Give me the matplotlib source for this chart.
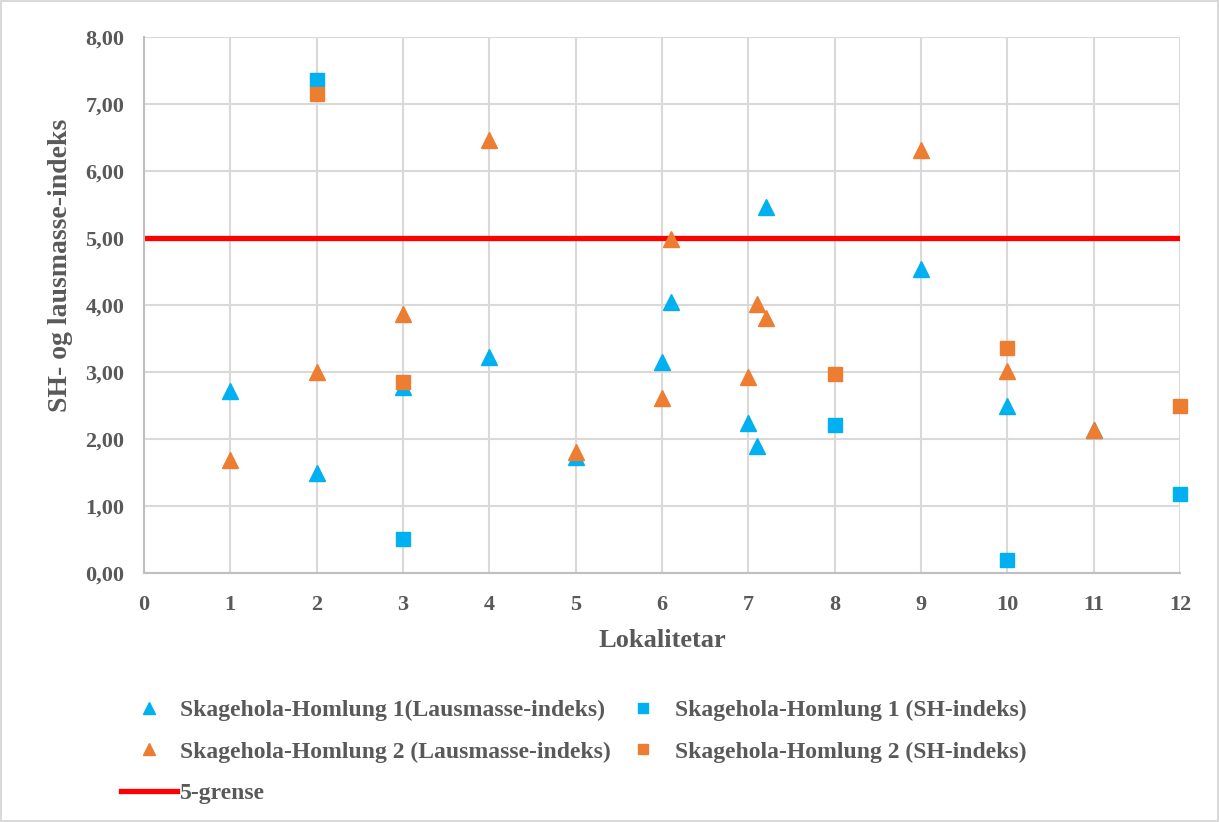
import matplotlib
matplotlib.use("Agg")
import matplotlib.pyplot as plt
from matplotlib.ticker import FuncFormatter

plt.rcParams['font.family'] = ['Liberation Serif', 'DejaVu Serif']
plt.rcParams['font.weight'] = 'bold'

# Skagehola-Homlung 1 - lausmasse-indeks (blue triangles)
x_s1_laus = [1, 2, 3, 4, 5, 6, 6.1, 7, 7.1, 7.2, 9, 10, 11]
y_s1_laus = [2.71, 1.49, 2.78, 3.22, 1.73, 3.15, 4.05, 2.24, 1.90, 5.46, 4.54, 2.49, 2.13]

# Skagehola-Homlung 1 - SH-indeks (blue squares)
x_s1_sh = [2, 3, 8, 10, 12]
y_s1_sh = [7.36, 0.51, 2.21, 0.20, 1.18]

# Skagehola-Homlung 2 - lausmasse-indeks (orange triangles)
x_s2_laus = [1, 2, 3, 4, 5, 6, 6.1, 7, 7.1, 7.2, 9, 10, 11]
y_s2_laus = [1.69, 3.00, 3.87, 6.46, 1.80, 2.61, 4.99, 2.92, 4.01, 3.81, 6.31, 3.01, 2.14]

# Skagehola-Homlung 2 - SH-indeks (orange squares)
x_s2_sh = [2, 3, 8, 10, 12]
y_s2_sh = [7.15, 2.85, 2.97, 3.36, 2.49]

grense = 5.0

labels = ["Skagehola-Homlung 1(Lausmasse-indeks)",
          "Skagehola-Homlung 1 (SH-indeks)",
          "Skagehola-Homlung 2 (Lausmasse-indeks)",
          "Skagehola-Homlung 2 (SH-indeks)",
          "5-grense"]

blue = '#00B0F0'
orange = '#ED7D31'
txt = '#595959'

fig = plt.figure(figsize=(12.19, 8.22), dpi=100, edgecolor='#d9d9d9', linewidth=1.5)
ax = fig.add_axes([0.118, 0.303, 0.850, 0.652])

h_line = ax.axhline(grense, color='#FF0000', lw=3.8, zorder=2)
h1, = ax.plot(x_s1_laus, y_s1_laus, ls='none', marker='^', ms=11, color=blue, zorder=3, clip_on=False)
h2, = ax.plot(x_s1_sh, y_s1_sh, ls='none', marker='s', ms=10.5, color=blue, zorder=3, clip_on=False)
h3, = ax.plot(x_s2_laus, y_s2_laus, ls='none', marker='^', ms=11, color=orange, zorder=4, clip_on=False)
h4, = ax.plot(x_s2_sh, y_s2_sh, ls='none', marker='s', ms=10.5, color=orange, zorder=4, clip_on=False)

ax.set_xlim(0, 12)
ax.set_ylim(0, 8)
ax.set_xticks(range(0, 13))
ax.set_yticks(range(0, 9))
ax.yaxis.set_major_formatter(FuncFormatter(lambda v, p: ('%.2f' % v).replace('.', ',')))
ax.grid(True, color='#D9D9D9', lw=1.5, zorder=0)
ax.set_axisbelow(True)
for s in ['top', 'right']:
    ax.spines[s].set_visible(False)
for s in ['left', 'bottom']:
    ax.spines[s].set_color('#BFBFBF')
    ax.spines[s].set_linewidth(1.5)
ax.tick_params(length=0, labelsize=16, labelcolor=txt)
ax.tick_params(axis='y', pad=14)
ax.tick_params(axis='x', pad=16)

ax.set_xlabel("Lokalitetar", fontsize=19, fontweight='bold', color=txt, labelpad=10)
ax.set_ylabel("SH- og lausmasse-indeks", fontsize=20, fontweight='bold', color=txt)
ax.yaxis.set_label_coords(-0.068, 0.573)

fig.legend([h1, h3, h_line, h2, h4],
           [labels[0], labels[2], labels[4], labels[1], labels[3]],
           ncol=2, loc='upper left', bbox_to_anchor=(0.082, 0.175),
           frameon=False, fontsize=17, labelcolor=txt,
           handlelength=2.35, handletextpad=0.15, columnspacing=0.2,
           labelspacing=0.85, markerscale=0.75)

fig.savefig("out.png", dpi=100)
